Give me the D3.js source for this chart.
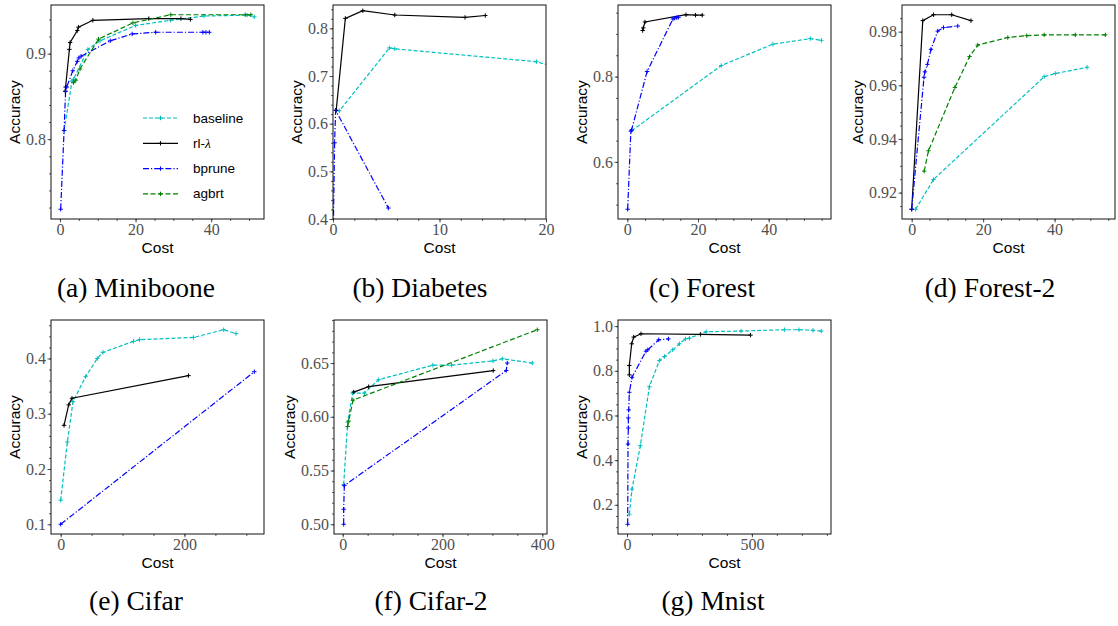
<!DOCTYPE html>
<html>
<head>
<meta charset="utf-8">
<script src="https://cdn.jsdelivr.net/npm/d3@7"></script>
<style>
body{margin:0;background:#fff}
</style>
</head>
<body>
<svg id="fig"></svg>
<script>
(function(){

var width = 1118,
	height = 626;

// methods, in plotting order
var series = ["baseline", "rl-λ", "bprune", "agbrt"];
var colors = ["#00bfbf", "#000000", "#0000ff", "#008000"];
var dashes = ["4,2", null, "6,2,1.2,2", "5,2.5"];

// every point is [cost, accuracy]
var miniboone_baseline = [[1.1,0.81],[3.2,0.868],[3.6,0.870],[7.4,0.905],[10.6,0.915],[20,0.933],[29.3,0.939],[38.1,0.944],[49.5,0.945],[51.4,0.943]];
var miniboone_rl = [[1.4,0.856],[1.5,0.861],[2.5,0.905],[2.7,0.913],[4.6,0.927],[4.9,0.931],[8.7,0.939],[23.5,0.941],[32,0.941],[34.5,0.940]];
var miniboone_bprune = [[0.2,0.718],[1.1,0.81],[1.5,0.856],[1.8,0.861],[3.4,0.880],[4.6,0.891],[5.0,0.895],[5.6,0.897],[13.3,0.915],[19.1,0.923],[25.3,0.925],[37.8,0.925],[38.6,0.925],[39.5,0.925]];
var miniboone_agbrt = [[3.6,0.866],[4.2,0.869],[5.3,0.882],[10.2,0.917],[19.3,0.936],[29.3,0.9455],[49,0.9455],[50.5,0.9455]];

var diabetes_baseline = [[0.3,0.628],[0.6,0.627],[5.3,0.759],[5.8,0.757],[19.1,0.730],[21,0.718]];
var diabetes_rl = [[0.3,0.628],[1.16,0.821],[2.8,0.837],[5.8,0.828],[12.4,0.823],[14.3,0.827]];
var diabetes_bprune = [[0.02,0.36],[0.15,0.56],[0.25,0.628],[5.2,0.423]];

var forest_baseline = [[1.2,0.673],[26.6,0.826],[41.2,0.876],[51.8,0.889],[54.9,0.885]];
var forest_rl = [[4.35,0.908],[4.5,0.914],[5.0,0.928],[16.6,0.945],[19.3,0.944],[21.2,0.944]];
var forest_bprune = [[0.1,0.489],[1.0,0.672],[1.2,0.675],[5.6,0.812],[12.9,0.935],[13.4,0.937],[14,0.938],[14.5,0.939]];

var forest2_baseline = [[1.1,0.9138],[6.1,0.9249],[37.1,0.9632],[40.2,0.9644],[49.1,0.9667]];
var forest2_rl = [[0,0.9138],[3.1,0.9841],[6.1,0.9863],[11.2,0.9863],[16.6,0.9841]];
var forest2_bprune = [[0,0.9138],[3.45,0.963],[3.7,0.965],[4.4,0.9678],[5.4,0.9734],[7.3,0.9802],[8.9,0.9815],[12.9,0.9821]];
var forest2_agbrt = [[3.5,0.928],[4.7,0.9356],[12.1,0.9592],[16.2,0.9707],[18.5,0.975],[26.9,0.9778],[32.2,0.9785],[37.1,0.9788],[45.8,0.9788],[54.2,0.9788]];

var cifar_baseline = [[0,0.1435],[10.8,0.249],[19.9,0.322],[40.3,0.367],[59.1,0.400],[68.3,0.411],[117.7,0.431],[127.4,0.434],[214.5,0.438],[263.4,0.452],[283.3,0.445]];
var cifar_rl = [[5.4,0.279],[12.9,0.316],[18.3,0.328],[206.5,0.369]];
var cifar_bprune = [[0,0.100],[312.9,0.376]];

var cifar2_baseline = [[2,0.537],[10,0.595],[20,0.622],[43.5,0.622],[72,0.6345],[180.6,0.648],[218,0.648],[301,0.652],[320,0.654],[380,0.650]];
var cifar2_rl = [[22,0.623],[52,0.628],[301.7,0.643]];
var cifar2_bprune = [[2,0.500],[2,0.514],[3.3,0.536],[327.8,0.643],[329.8,0.650]];
var cifar2_agbrt = [[10,0.591],[12,0.596],[20.7,0.6155],[390,0.681]];

var mnist_baseline = [[9.4,0.158],[20,0.27],[53.5,0.465],[89.6,0.729],[129.7,0.846],[150,0.864],[183,0.894],[210,0.921],[234,0.943],[250,0.946],[317,0.975],[457,0.978],[631,0.984],[688.5,0.984],[744.7,0.981],[778,0.978]];
var mnist_rl = [[9.4,0.782],[9.4,0.824],[18.7,0.921],[26.7,0.951],[56,0.966],[294,0.963],[494.7,0.960]];
var mnist_bprune = [[2.7,0.113],[4,0.472],[5.3,0.544],[5.3,0.589],[6.7,0.625],[9.4,0.704],[20,0.771],[76,0.888],[83,0.894],[127,0.939],[166,0.943]];

// captions and tick labels
var captions = ["(a) Miniboone", "(b) Diabetes", "(c) Forest", "(d) Forest-2", "(e) Cifar", "(f) Cifar-2", "(g) Mnist"];

var xticks = [[0,20,40], [0,10,20], [0,20,40], [0,20,40], [0,200], [0,200,400], [0,500]];
var yticks = [[0.8,0.9], [0.4,0.5,0.6,0.7,0.8], [0.6,0.8], [0.92,0.94,0.96,0.98], [0.1,0.2,0.3,0.4], [0.50,0.55,0.60,0.65], [0.2,0.4,0.6,0.8,1.0]];
var ylabels = [["0.8","0.9"], ["0.4","0.5","0.6","0.7","0.8"], ["0.6","0.8"], ["0.92","0.94","0.96","0.98"], ["0.1","0.2","0.3","0.4"], ["0.50","0.55","0.60","0.65"], ["0.2","0.4","0.6","0.8","1.0"]];
var xminor = [5, 2, 5, 5, 50, 50, 100];
var yminor = [0.02, 0.02, 0.05, 0.005, 0.02, 0.01, 0.05];

var panels = [
	{lines: [miniboone_baseline, miniboone_rl, miniboone_bprune, miniboone_agbrt], legend: true},
	{lines: [diabetes_baseline, diabetes_rl, diabetes_bprune, null], xlim: [0,20], ylim: [0.4,0.849]},
	{lines: [forest_baseline, forest_rl, forest_bprune, null]},
	{lines: [forest2_baseline, forest2_rl, forest2_bprune, forest2_agbrt]},
	{lines: [cifar_baseline, cifar_rl, cifar_bprune, null]},
	{lines: [cifar2_baseline, cifar2_rl, cifar2_bprune, cifar2_agbrt]},
	{lines: [mnist_baseline, mnist_rl, mnist_bprune, null]}
];

// layout of the subfigures
var boxw = 213, boxh = 214;
var boxes = [[51,5],[333,5],[618,5],[902,5],[51,320],[334,320],[618,320]];
var capx = [136, 420, 702, 990, 136, 431, 713];
var capy = [297, 297, 297, 297, 610, 610, 610];

var svg = d3.select("#fig")
	.attr("width", width)
	.attr("height", height)
	.style("background", "#fff");

var defs = svg.append("defs");

// matplotlib style limits: 5% margin around the data
function autolim(vals){
	var e = d3.extent(vals), pad = (e[1]-e[0]) * 0.05;
	return [e[0]-pad, e[1]+pad];
}

function cross(x, y){
	var s = 2.2;
	return "M"+(x-s)+","+y+"H"+(x+s)+"M"+x+","+(y-s)+"V"+(y+s);
}

panels.forEach(function(p, k){
	var left = boxes[k][0], top = boxes[k][1];
	var all = [];
	p.lines.forEach(function(l){ if (l) all = all.concat(l) });

	var xd = p.xlim || autolim(all.map(function(d){return d[0]}));
	var yd = p.ylim || autolim(all.map(function(d){return d[1]}));

	var X = d3.scaleLinear().domain(xd).range([0, boxw]);
	var Y = d3.scaleLinear().domain(yd).range([boxh, 0]);

	var g = svg.append("g").attr("transform", "translate("+left+","+top+")");

	defs.append("clipPath").attr("id", "clip"+k)
		.append("rect").attr("width", boxw).attr("height", boxh);

	// minor ticks
	var xm = d3.range(Math.ceil(xd[0]/xminor[k]), Math.floor(xd[1]/xminor[k])+1).map(function(i){return i*xminor[k]});
	var ym = d3.range(Math.ceil(yd[0]/yminor[k]-1e-6), Math.floor(yd[1]/yminor[k]+1e-6)+1).map(function(i){return i*yminor[k]});

	g.append("g").attr("class","minor")
		.attr("transform","translate(0,"+boxh+")")
		.call(d3.axisBottom(X).tickValues(xm).tickSize(2).tickFormat(""));
	g.append("g").attr("class","minor")
		.call(d3.axisLeft(Y).tickValues(ym).tickSize(2).tickFormat(""));

	// major ticks
	var xa = g.append("g").attr("class","major")
		.attr("transform","translate(0,"+boxh+")")
		.call(d3.axisBottom(X).tickValues(xticks[k]).tickSize(3.5).tickPadding(1.5).tickFormat(d3.format("d")));
	var ya = g.append("g").attr("class","major")
		.call(d3.axisLeft(Y).tickValues(yticks[k]).tickSize(3.5).tickPadding(1.5)
			.tickFormat(function(d,i){return ylabels[k][i]}));

	g.selectAll(".domain").remove();
	g.selectAll(".tick line").attr("stroke","#333").attr("stroke-width",0.8);
	g.selectAll(".major text")
		.attr("fill","#505050")
		.style("font-family","'Liberation Serif', 'DejaVu Serif', serif")
		.style("font-size","16px");

	// the curves
	var plot = g.append("g").attr("clip-path","url(#clip"+k+")");
	var line = d3.line().x(function(d){return X(d[0])}).y(function(d){return Y(d[1])});

	p.lines.forEach(function(l, s){
		if (!l) return;
		plot.append("path")
			.attr("d", line(l))
			.attr("fill","none")
			.attr("stroke", colors[s])
			.attr("stroke-width", 1.2)
			.attr("stroke-dasharray", dashes[s]);
		plot.append("path")
			.attr("d", l.map(function(d){return cross(X(d[0]), Y(d[1]))}).join(""))
			.attr("fill","none")
			.attr("stroke", colors[s])
			.attr("stroke-width", 1);
	});

	// frame
	g.append("rect")
		.attr("width", boxw).attr("height", boxh)
		.attr("fill","none").attr("stroke","#111").attr("stroke-width",1);

	// axis labels
	g.append("text")
		.attr("x", boxw/2).attr("y", boxh+34)
		.attr("text-anchor","middle")
		.style("font-family","'Liberation Sans', Arial, sans-serif")
		.style("font-size","15.5px")
		.text("Cost");

	var bb = ya.node().getBBox();
	g.append("text")
		.attr("transform","translate("+(bb.x-6)+","+(boxh/2)+") rotate(-90)")
		.attr("text-anchor","middle")
		.style("font-family","'Liberation Sans', Arial, sans-serif")
		.style("font-size","15.5px")
		.text("Accuracy");

	if (p.legend) {
		var lg = g.append("g").attr("transform","translate(92,113)");
		series.forEach(function(name, s){
			var row = lg.append("g").attr("transform","translate(0,"+(s*25.3)+")");
			row.append("line")
				.attr("x1",0).attr("x2",35).attr("y1",0).attr("y2",0)
				.attr("stroke",colors[s]).attr("stroke-width",1.2)
				.attr("stroke-dasharray",dashes[s]);
			row.append("path").attr("d",cross(17.5,0))
				.attr("stroke",colors[s]).attr("stroke-width",1).attr("fill","none");
			var t = row.append("text")
				.attr("x",50).attr("y",4.5)
				.style("font-family","'Liberation Sans', Arial, sans-serif")
				.style("font-size","13.5px");
			if (name == "rl-λ") {
				t.append("tspan").text("rl-");
				t.append("tspan").style("font-family","'Liberation Serif', serif").style("font-style","italic").text("λ");
			} else t.text(name);
		});
	}

	// caption under the subfigure
	svg.append("text")
		.attr("x", capx[k]).attr("y", capy[k])
		.attr("text-anchor","middle")
		.style("font-family","'Liberation Serif', 'DejaVu Serif', serif")
		.style("font-size","27.5px")
		.text(captions[k]);
});

})();
</script>
</body>
</html>
